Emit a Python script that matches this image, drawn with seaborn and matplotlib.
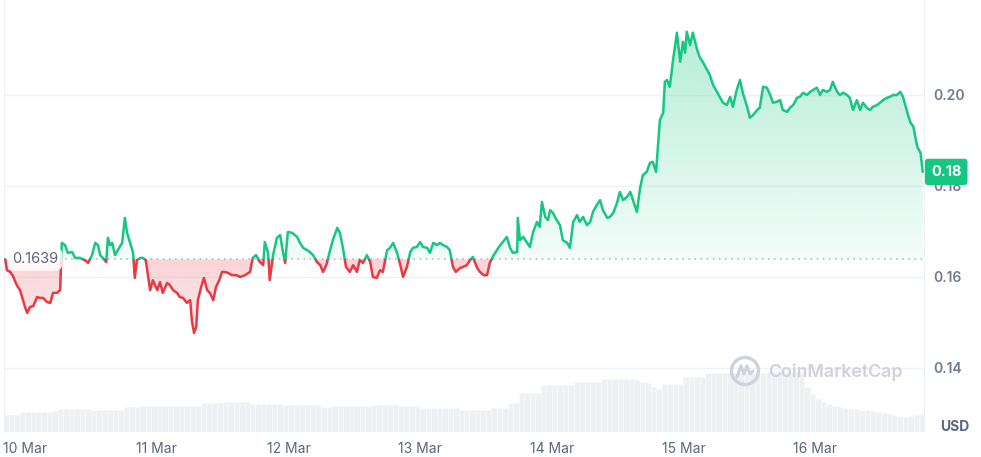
import numpy as np
import matplotlib
matplotlib.use("Agg")
import matplotlib.pyplot as plt
import matplotlib.colors as mcolors
from matplotlib.patches import Rectangle, Circle
from matplotlib.lines import Line2D
import seaborn as sns

# ================= 1. Style =================
sns.set_style("white")
plt.rcParams['font.family'] = ['Inter', 'DejaVu Sans']

GREEN = '#16c784'
RED = '#ea3943'
GRID = '#eff2f5'
TEXT = '#58667e'

# ================= 2. Data =================
# time in hours since 10 Mar 00:00, price in USD
hours = [
    -3.6, -3.3, -2.7, -2.2, -1.5, -0.9,
    0.0, 0.4, 0.9, 1.5, 2.2, 2.7, 3.3, 4.0, 4.6, 5.1, 5.8, 6.4, 6.7, 7.3, 7.8, 8.6, 9.1, 10.0,
    10.9, 11.5, 12.2, 12.8, 13.3, 13.7, 14.2, 14.8, 15.1, 15.5, 15.9, 16.4, 16.9, 17.7, 18.2,
    18.6, 19.1, 19.7, 20.0, 20.4, 21.0, 21.5, 22.0, 22.8, 23.3,
    24.1, 24.6, 25.1, 25.9, 26.4, 27.0, 27.7, 28.2, 28.8, 29.5, 30.1, 30.4, 30.8, 31.2, 31.5,
    32.1, 32.6, 33.2, 33.7, 34.3, 34.8, 35.4, 35.9, 36.4, 37.0, 37.7, 38.5, 39.2, 40.1, 41.0,
    41.5, 42.1, 42.8, 43.4, 43.7, 44.3, 44.6, 45.2, 45.9, 46.5, 47.0, 47.4, 47.9,
    48.7, 49.6, 50.1, 50.7, 51.4, 51.9, 52.5, 53.2, 53.8, 54.3, 54.9, 55.6, 56.1, 56.9, 57.4,
    57.9, 58.5, 59.2, 59.8, 60.5, 61.0, 61.6, 62.3, 62.9, 63.4, 64.1, 64.7, 65.2, 66.0, 66.5,
    67.1, 67.8, 68.3, 68.9, 69.6, 70.2, 70.7, 71.4,
    72.0, 72.5, 73.3, 73.8, 74.4, 75.1, 75.6, 76.2, 76.9, 77.4, 78.0, 78.5, 79.3, 79.8, 80.5,
    81.1, 81.6, 82.4, 82.9, 83.6, 84.2, 84.7, 85.3, 86.0, 86.6, 87.1, 87.8, 88.4, 88.9, 89.7,
    89.8, 90.2, 90.8, 91.5, 92.0, 92.6, 93.3, 93.8, 94.2, 94.8, 95.3,
    95.7, 96.2, 96.9, 97.5, 98.0, 98.8, 99.3, 99.9, 100.6, 101.1, 101.7, 102.4, 103.0, 103.5,
    104.2, 104.8, 105.3, 106.1, 106.6, 107.2, 107.9, 108.4, 109.0, 109.7, 110.3, 110.8, 111.5,
    112.1, 112.6, 113.3, 113.9, 114.4, 115.0, 115.7, 116.3, 116.6, 117.0, 117.5, 118.1, 118.8,
    119.4,
    119.9, 120.3, 120.6, 121.2, 121.7, 122.5, 123.0, 123.6, 124.3, 124.8, 125.4, 126.1, 126.6,
    127.2, 127.9, 128.5, 129.0, 129.7, 130.3, 130.8, 131.6, 132.1, 132.7, 133.4, 133.9, 134.5,
    135.2, 135.8, 136.3, 137.0, 137.6, 138.1, 138.9, 139.4, 140.0, 140.7, 141.2, 141.8, 142.5,
    143.1, 143.6,
    144.3, 144.9, 145.4, 146.1, 146.7, 147.2, 148.0, 148.5, 149.1, 149.8, 150.3, 150.9, 151.6,
    152.2, 152.7, 153.4, 154.0, 154.5, 155.3, 155.8, 156.4, 157.1, 157.6, 158.2, 158.9, 159.5,
    160.0, 160.8, 161.3, 161.9, 162.6, 163.2, 163.6,
]
prices = [
    0.1639, 0.1615, 0.1611, 0.1602, 0.1582, 0.1571,
    0.1534, 0.1521, 0.1534, 0.1536, 0.1556, 0.1554, 0.1554, 0.1545, 0.1543, 0.1565, 0.1565,
    0.1571, 0.1675, 0.1670, 0.1653, 0.1655, 0.1642, 0.1642,
    0.1637, 0.1631, 0.1648, 0.1675, 0.1670, 0.1648, 0.1642, 0.1633, 0.1686, 0.1670, 0.1675,
    0.1648, 0.1659, 0.1675, 0.1730,
    0.1697, 0.1677, 0.1653, 0.1598, 0.1637, 0.1642, 0.1642, 0.1637, 0.1571, 0.1593,
    0.1571, 0.1589, 0.1565, 0.1587, 0.1582, 0.1571, 0.1565, 0.1556, 0.1554, 0.1543, 0.1549,
    0.1505, 0.1477, 0.1490, 0.1549,
    0.1578, 0.1598, 0.1571, 0.1565, 0.1549, 0.1578, 0.1593, 0.1611, 0.1611, 0.1609, 0.1604,
    0.1604, 0.1600, 0.1604, 0.1611,
    0.1642, 0.1648, 0.1633, 0.1626, 0.1677, 0.1653, 0.1593, 0.1648, 0.1686, 0.1692, 0.1655,
    0.1631, 0.1699,
    0.1697, 0.1688, 0.1675, 0.1664, 0.1659, 0.1655, 0.1648, 0.1633, 0.1626, 0.1611, 0.1626,
    0.1659, 0.1681, 0.1708, 0.1697,
    0.1666, 0.1622, 0.1611, 0.1626, 0.1611, 0.1637, 0.1631, 0.1648, 0.1633, 0.1600, 0.1598,
    0.1615, 0.1611, 0.1659, 0.1664,
    0.1675, 0.1653, 0.1631, 0.1600, 0.1622, 0.1655, 0.1664, 0.1666,
    0.1677, 0.1666, 0.1664, 0.1653, 0.1675, 0.1670, 0.1675, 0.1670, 0.1666, 0.1659, 0.1622,
    0.1611, 0.1620, 0.1622, 0.1626,
    0.1637, 0.1644, 0.1620, 0.1611, 0.1604, 0.1604, 0.1631, 0.1646, 0.1659, 0.1670, 0.1677,
    0.1688, 0.1664, 0.1653, 0.1655,
    0.1730, 0.1681, 0.1688, 0.1675, 0.1666, 0.1699, 0.1721, 0.1710, 0.1765, 0.1732, 0.1725,
    0.1747, 0.1741, 0.1725, 0.1714, 0.1681, 0.1675, 0.1664, 0.1721, 0.1736, 0.1721, 0.1732,
    0.1714, 0.1721, 0.1743,
    0.1758, 0.1769, 0.1747, 0.1730, 0.1732, 0.1741, 0.1763, 0.1787, 0.1769, 0.1776, 0.1787,
    0.1769, 0.1743,
    0.1796, 0.1824, 0.1831, 0.1851, 0.1853, 0.1831, 0.1945, 0.1961, 0.2029, 0.2033, 0.2018,
    0.2077, 0.2137, 0.2073,
    0.2117, 0.2093, 0.2139, 0.2110, 0.2137, 0.2099, 0.2082, 0.2071, 0.2055, 0.2044, 0.2022,
    0.2007, 0.1996,
    0.1983, 0.1978, 0.1996, 0.1974, 0.2011, 0.2033, 0.2005, 0.1974, 0.1950, 0.1956, 0.1967,
    0.1972, 0.2018,
    0.2016, 0.2000, 0.1983, 0.1985, 0.1989, 0.1967, 0.1963, 0.1972, 0.1978, 0.1994, 0.1996,
    0.2005, 0.2000, 0.2007, 0.2011,
    0.2016, 0.2000, 0.2011, 0.2007, 0.2011, 0.2029, 0.2007, 0.2000, 0.2005, 0.2000, 0.1994,
    0.1967, 0.1989,
    0.1967, 0.1983, 0.1972, 0.1967, 0.1974, 0.1978, 0.1983, 0.1989, 0.1994, 0.1996, 0.2000,
    0.2000, 0.2007,
    0.1996, 0.1961, 0.1941, 0.1930, 0.1886, 0.1873, 0.1831,
]

# hourly volume (relative), one bar per hour starting 9 Mar 20:00
volume = [
    17, 17, 17, 20, 20, 20, 20, 20, 20, 21, 23, 23, 23, 23, 23, 23, 22, 22, 22, 22, 22, 22, 25, 25,
    25, 26, 26, 26, 26, 26, 26, 26, 26, 26, 26, 26, 29, 29, 29, 29, 30, 30, 30, 30, 30, 28, 28, 28,
    28, 28, 28, 27, 27, 27, 27, 27, 27, 27, 25, 25, 26, 26, 26, 26, 26, 26, 26, 27, 27, 27, 27, 27,
    26, 26, 26, 26, 24, 24, 24, 24, 24, 24, 24, 22, 22, 22, 22, 22, 22, 24, 24, 24, 29, 29, 39, 39,
    39, 39, 47, 47, 47, 47, 47, 47, 50, 50, 50, 50, 50, 53, 53, 53, 53, 53, 53, 52, 50, 49, 45, 43,
    48, 48, 48, 48, 55, 55, 55, 55, 59, 59, 59, 59, 59, 59, 59, 59, 59, 59, 59, 60, 60, 60, 60, 60,
    60, 60, 45, 38, 33, 30, 28, 26, 25, 24, 23, 23, 22, 22, 21, 20, 19, 18, 17, 16, 15, 16, 17, 18,
]
vol_hours = np.arange(-4, -4 + len(volume)) + 0.5

baseline = 0.1639
last_label = '0.18'
day_ticks = [0, 24, 48, 72, 96, 120, 144]
day_labels = ['10 Mar', '11 Mar', '12 Mar', '13 Mar', '14 Mar', '15 Mar', '16 Mar']
price_ticks = [0.14, 0.16, 0.18, 0.20]
price_labels = ['0.14', '0.16', '0.18', '0.20']

hours = np.array(hours)
prices = np.array(prices)

# ================= 3. Figure =================
W, H = 981, 457
fig = plt.figure(figsize=(W / 100, H / 100), dpi=100)
fig.patch.set_facecolor('white')

x0, x1 = -3.83, 163.83
y0, y1 = 0.12593, 0.22088

ax_vol = fig.add_axes([4 / W, 25 / H, 920 / W, 432 / H])
ax = ax_vol.twinx()

# volume bars in the background
ax_vol.bar(vol_hours, volume, width=1.0, color='#eef0f4', edgecolor='#f7f8fa', linewidth=0.6)
ax_vol.set_ylim(0, 432)
ax_vol.set_yticks([])
ax_vol.set_xlim(x0, x1)
ax_vol.set_xticks(day_ticks)
ax_vol.set_xticklabels(day_labels)
ax_vol.tick_params(axis='x', length=0, pad=7, labelsize=10, labelcolor=TEXT)
for s in ['top', 'bottom', 'right']:
    ax_vol.spines[s].set_visible(False)
ax_vol.spines['left'].set_color(GRID)


def gradient_fill(y_edge, color, lo, hi, a_top, a_bottom):
    poly = ax.fill_between(hours, y_edge, baseline, color='none', lw=0)
    path = poly.get_paths()[0]
    n = 256
    img = np.zeros((n, 1, 4))
    img[..., :3] = mcolors.to_rgb(color)
    img[:, 0, 3] = np.linspace(a_top, a_bottom, n)
    im = ax.imshow(img, aspect='auto', origin='upper', extent=[x0, x1, lo, hi],
                   zorder=1, interpolation='bilinear')
    im.set_clip_path(path, ax.transData)


gradient_fill(np.maximum(prices, baseline), GREEN, baseline, 0.2145, 0.32, 0.05)
gradient_fill(np.minimum(prices, baseline), RED, 0.147, baseline, 0.22, 0.10)

# price line: green above the open price, red below
sns.lineplot(x=hours, y=prices, ax=ax, color=GREEN, lw=1.8, zorder=4, sort=False)
line_up = ax.lines[-1]
sns.lineplot(x=hours, y=prices, ax=ax, color=RED, lw=1.8, zorder=4, sort=False)
line_dn = ax.lines[-1]
for ln in (line_up, line_dn):
    ln.set_solid_joinstyle('round')
    ln.set_solid_capstyle('round')
line_up.set_clip_path(Rectangle((x0, baseline), x1 - x0, 1, transform=ax.transData))
line_dn.set_clip_path(Rectangle((x0, baseline - 1), x1 - x0, 1, transform=ax.transData))

ax.axhline(baseline, color='#a6b0c3', lw=1.1, ls=(0, (1, 3)), zorder=3)

ax.set_xlim(x0, x1)
ax.set_ylim(y0, y1)
ax.set_yticks(price_ticks)
ax.set_yticklabels(price_labels)
ax.tick_params(axis='y', length=0, pad=7, labelsize=10, labelcolor='#6f7a8f')
for lab in ax.get_yticklabels():
    lab.set_fontweight('semibold')
ax.grid(axis='y', color=GRID, lw=1)
ax.set_axisbelow(True)
for s in ['top', 'bottom', 'left']:
    ax.spines[s].set_visible(False)
ax.spines['right'].set_color(GRID)
ax.set_xlabel('')
ax.set_ylabel('')

# open price tag
ax.text(8 / 920, baseline, f'{baseline:.4f}', transform=ax.get_yaxis_transform(),
        ha='left', va='center', fontsize=10.5, color=TEXT, zorder=6,
        bbox=dict(boxstyle='round,pad=0.3,rounding_size=0.5', fc='white', ec='none', alpha=0.85))

# last price tag
ax.text(1 + 7 / 920, prices[-1], last_label, transform=ax.get_yaxis_transform(),
        ha='left', va='center', fontsize=10.5, fontweight='bold', color='white', zorder=10,
        clip_on=False,
        bbox=dict(boxstyle='round,pad=0.42,rounding_size=0.2', fc=GREEN, ec='none'))

fig.text(940 / W, 1 - 427 / H, 'USD', ha='left', va='center', fontsize=10,
         fontweight='bold', color=TEXT)

# watermark (drawn in inches so the circle stays round)
wm = '#cdd2db'
fig.patches.append(Circle((7.45, (H - 371) / 100), 0.135, transform=fig.dpi_scale_trans,
                          fill=False, ec=wm, lw=2.4, zorder=20))
fig.lines.append(Line2D(np.array([737, 741, 744, 747, 750, 753]) / 100,
                        (H - np.array([377, 366, 374, 366, 374, 371])) / 100,
                        transform=fig.dpi_scale_trans, color=wm, lw=2.2, zorder=20,
                        solid_joinstyle='round'))
fig.text(768 / W, 1 - 372 / H, 'CoinMarketCap', ha='left', va='center', fontsize=12.8,
         fontweight='semibold', color=wm, zorder=20)

fig.savefig('out.png', dpi=100, facecolor='white')
